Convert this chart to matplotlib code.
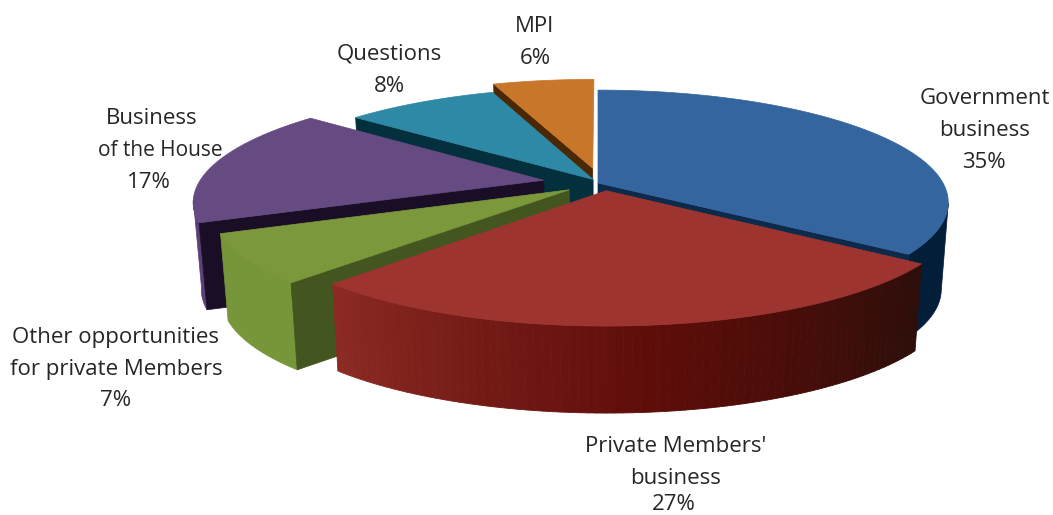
"""Exploded 3D pie of sitting time by business type."""

import numpy as np
import matplotlib.pyplot as plt
from matplotlib.collections import PolyCollection
from matplotlib.colors import to_rgb
from matplotlib.patches import Polygon

plt.rcParams["font.family"] = ["Open Sans", "DejaVu Sans"]

# clockwise from 12 o'clock
categories = ["Government\nbusiness", "Private Members'\nbusiness",
              "Other opportunities\nfor private Members",
              "Business\nof the House", "Questions", "MPI"]
values = [35, 27, 7, 17, 8.4, 5.6]

explode = [0.0, 0.07, 0.11, 0.16, 0.04, 0.14]
nudge_x = [0, 6, 3, 0, 3, 3]
top_colors = ["#35659f", "#9e3430", "#7b993c", "#664a82", "#2e89a6", "#c8772a"]
cut_colors = ["#0c2a4a", "#3a0e0b", "#44561f", "#190e26", "#03303c", "#4a2806"]
rim_colors = ["#021e38", None, "#77963a", "#5b4076", "#03303c", "#4a2806"]
red_rim_stops = ["#8c2a24", "#5f0d09", "#2c0e0a"]

CX, CY = 598, 183
A, B = 345, 109
PERSP = 0.173
DEPTH = 87
BOTTOM_SHRINK = 0.98


def project(u, v):
    s = 1.0 / (1.0 + PERSP * v)
    return CX + A * u * s, CY - B * v * s


def lower(x, y):
    return CX + (np.asarray(x) - CX) * BOTTOM_SHRINK, np.asarray(y) + DEPTH


def band(x, y):
    """polygon between an edge of the top face and the same edge moved down"""
    xb, yb = lower(x, y)
    return np.column_stack([np.r_[x, xb[::-1]], np.r_[y, yb[::-1]]])


def mix(stops, frac):
    pts = np.array([to_rgb(c) for c in stops])
    pos = np.linspace(0, 1, len(stops))
    return [np.interp(frac, pos, pts[:, i]) for i in range(3)]


fig = plt.figure(figsize=(10.53, 5.15), dpi=100)
ax = fig.add_axes([0, 0, 1, 1])
ax.set_xlim(0, 1053)
ax.set_ylim(515, 0)
ax.axis("off")

edges = np.r_[0, np.cumsum(values)] / sum(values) * 2 * np.pi

# back slices first, the red one sits in front of everything
for z, i in enumerate([5, 4, 3, 0, 2, 1]):
    t = np.linspace(edges[i], edges[i + 1], 80)
    mid = (edges[i] + edges[i + 1]) / 2
    du, dv = explode[i] * np.sin(mid), explode[i] * np.cos(mid)

    ax_, ay_ = project(du, dv)
    ax_ += nudge_x[i]
    rx, ry = project(np.sin(t) + du, np.cos(t) + dv)
    rx += nudge_x[i]

    # only the part of the rim that faces the viewer (between the silhouette points)
    front = np.cos(t) < -PERSP
    if front.sum() > 1:
        fx, fy = rx[front], ry[front]
        if rim_colors[i] is not None:
            ax.add_patch(Polygon(band(fx, fy), closed=True, fc=rim_colors[i],
                                 ec=rim_colors[i], lw=0.5, zorder=z * 3 + 1))
        else:
            polys, cols = [], []
            for j in range(len(fx) - 1):
                polys.append(band(fx[j:j + 2], fy[j:j + 2]))
                # t runs right to left along the front of the red slice
                cols.append(mix(red_rim_stops, 1 - j / (len(fx) - 2)))
            ax.add_collection(PolyCollection(polys, facecolors=cols, edgecolors=cols,
                                             linewidths=0.6, zorder=z * 3 + 1))

    # the two cut faces, drawn only if they turn towards the viewer
    for end, seen in ((0, np.sin(edges[i]) < -1e-6), (-1, np.sin(edges[i + 1]) > 1e-6)):
        if seen:
            cut = band(np.array([ax_, rx[end]]), np.array([ay_, ry[end]]))
            ax.add_patch(Polygon(cut, closed=True, fc=cut_colors[i], ec=cut_colors[i],
                                 lw=0.5, zorder=z * 3 + 2))

    top = np.column_stack([np.r_[ax_, rx], np.r_[ay_, ry]])
    ax.add_patch(Polygon(top, closed=True, fc=top_colors[i], ec=top_colors[i],
                         lw=0.5, zorder=z * 3 + 3))

pct = [f"{round(v)}%" for v in values]
label_lines = [
    categories[0].split("\n") + [pct[0]],
    categories[1].split("\n") + [pct[1]],
    categories[2].split("\n") + [pct[2]],
    categories[3].split("\n") + [pct[3]],
    [categories[4], pct[4]],
    [categories[5], pct[5]],
]
label_x = [[985, 985, 984], [676, 676, 674], [116, 116, 116],
           [152, 160, 149], [389, 389], [535, 535]]
label_y = [[98, 130, 162], [446, 478, 505], [337, 369, 401],
           [118, 150, 182], [54, 86], [26, 59]]
label_size = {"of the House": 15}

for lines, xs, ys in zip(label_lines, label_x, label_y):
    for line, x, y in zip(lines, xs, ys):
        ax.text(x, y, line, ha="center", va="center",
                fontsize=label_size.get(line, 16), color="#262626", zorder=40)

fig.savefig("out.png", dpi=100)
